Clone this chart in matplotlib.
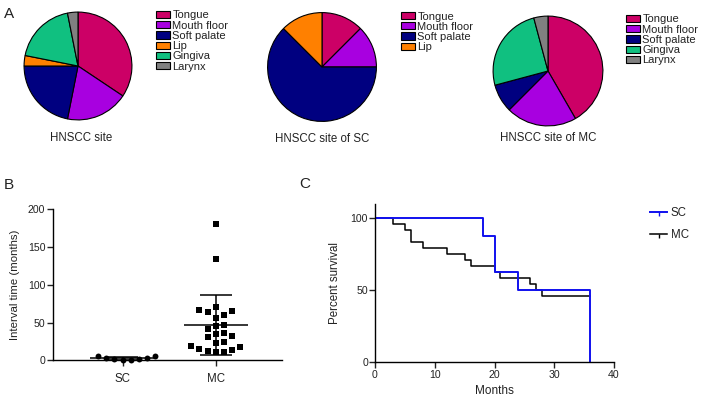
import matplotlib.pyplot as plt
import numpy as np
from matplotlib.patches import Patch
from matplotlib.lines import Line2D

plt.rcParams["font.family"] = ["Liberation Sans", "DejaVu Sans"]
plt.rcParams["text.color"] = "#222222"
plt.rcParams["axes.labelcolor"] = "#222222"
plt.rcParams["xtick.color"] = "#222222"
plt.rcParams["ytick.color"] = "#222222"

# ---- data -------------------------------------------------------------
site_colors = {
    "Tongue": "#CC0066",
    "Mouth floor": "#A800E0",
    "Soft palate": "#000080",
    "Lip": "#FF8000",
    "Gingiva": "#10C080",
    "Larynx": "#808080",
}

all_sites = ["Tongue", "Mouth floor", "Soft palate", "Lip", "Gingiva", "Larynx"]
all_counts = [11, 6, 7, 1, 6, 1]

sc_sites = ["Tongue", "Mouth floor", "Soft palate", "Lip"]
sc_counts = [1, 1, 5, 1]

mc_sites = ["Tongue", "Mouth floor", "Soft palate", "Gingiva", "Larynx"]
mc_counts = [10, 5, 2, 6, 1]

groups = ["SC", "MC"]
sc_interval = [5.7, 3.5, 1.3, 0.0, 0.5, 2.2, 3.5, 5.7]
mc_interval = [180, 134, 71, 66, 65, 64, 60, 56.5, 47, 46, 42, 36, 34.5,
               31, 32, 24.5, 23.5, 19.5, 17, 14.5, 14, 12, 11, 11]

sc_km_months = [0, 18, 20, 24, 36]
sc_km_surv = [100, 87.5, 62.5, 50, 0]
mc_km_months = [0, 3, 5, 6, 8, 12, 15, 16, 20, 21, 26, 27, 28, 36]
mc_km_surv = [100, 95.8, 91.7, 83.3, 79.2, 75, 70.8, 66.7, 62.5, 58.3,
              54.2, 50, 45.8, 45.8]


def swarm_offsets(values, step, ythresh):
    """Simple beeswarm: put each point at the nearest free horizontal slot."""
    order = np.argsort(values, kind="stable")
    placed = []
    offsets = np.zeros(len(values))
    for i in order:
        y = values[i]
        k = 0
        while True:
            cands = [0] if k == 0 else [k, -k]
            ok = None
            for c in cands:
                x = c * step
                if all(abs(x - px) > step * 0.99 or abs(y - py) > ythresh
                       for px, py in placed):
                    ok = x
                    break
            if ok is not None:
                offsets[i] = ok
                placed.append((ok, y))
                break
            k += 1
    return offsets


W, H = 709, 407
fig = plt.figure(figsize=(W / 100, H / 100), dpi=100)


def fx(px):
    return px / W


def fy(py):
    return 1 - py / H


# ---- panel A: pies ------------------------------------------------------
pies = [
    (all_sites, all_counts, (78, 66, 55), (156, 10.5), (81, 138), "HNSCC site"),
    (sc_sites, sc_counts, (322, 67, 55.5), (401, 11.5), (322, 139), "HNSCC site of SC"),
    (mc_sites, mc_counts, (548, 71, 56), (626, 14.5), (548, 138), "HNSCC site of MC"),
]
for sites, counts, (cx, cy, r), (lx, ly), (tx, ty), title in pies:
    ax = fig.add_axes([fx(cx - r), fy(cy + r), 2 * r / W, 2 * r / H])
    ax.pie(counts, colors=[site_colors[s] for s in sites], startangle=90,
           counterclock=False, radius=1,
           wedgeprops=dict(edgecolor="black", linewidth=0.8))
    ax.set_xlim(-1.02, 1.02)
    ax.set_ylim(-1.02, 1.02)
    handles = [Patch(facecolor=site_colors[s], edgecolor="black", linewidth=0.8)
               for s in sites]
    fig.legend(handles, sites, loc="upper left",
               bbox_to_anchor=(fx(lx), fy(ly)), frameon=False, fontsize=8,
               handlelength=1.27, handleheight=0.6, handletextpad=0.2,
               labelspacing=0.02, borderpad=0, borderaxespad=0)
    fig.text(fx(tx), fy(ty), title, ha="center", va="center", fontsize=8.3)

# ---- panel B: interval scatter -----------------------------------------
axb = fig.add_axes([fx(53), fy(360.3), (282 - 53) / W, (360.3 - 209.3) / H])
positions = [1, 2]
for pos, vals, marker, size in [(1, sc_interval, "o", 18), (2, mc_interval, "s", 17)]:
    vals = np.asarray(vals, dtype=float)
    off = swarm_offsets(vals, 0.088, 10.0)
    axb.scatter(pos + off, vals, marker=marker, s=size, color="black",
                linewidths=0, zorder=3, clip_on=False)
    m, sd = vals.mean(), vals.std(ddof=1)
    axb.hlines(m, pos - 0.345, pos + 0.345, color="black", lw=1.1, zorder=4)
    axb.vlines(pos, max(m - sd, 0), m + sd, color="black", lw=1.1, zorder=4)
    axb.hlines([max(m - sd, 0), m + sd], pos - 0.17, pos + 0.17, color="black",
               lw=1.1, zorder=4)

axb.set_xlim(0.254, 2.71)
axb.set_ylim(0, 200)
axb.set_xticks(positions)
axb.set_xticklabels(groups, fontsize=8.3)
axb.set_yticks([0, 50, 100, 150, 200])
axb.tick_params(axis="y", labelsize=7.6, length=4, width=1, pad=1.5)
axb.tick_params(axis="x", length=4, width=1, pad=5)
axb.set_ylabel("Interval time (months)", fontsize=8.2, labelpad=6)
for s in ["top", "right"]:
    axb.spines[s].set_visible(False)
for s in ["left", "bottom"]:
    axb.spines[s].set_linewidth(1)

# ---- panel C: Kaplan-Meier ---------------------------------------------
axc = fig.add_axes([fx(375), fy(362), (614 - 375) / W, (362 - 204) / H])
axc.step(mc_km_months, mc_km_surv, where="post", color="black", lw=1.1)
axc.step(sc_km_months, sc_km_surv, where="post", color="#1010EE", lw=1.4)
axc.set_xlim(0, 40)
axc.set_ylim(0, 110)
axc.set_xticks([0, 10, 20, 30, 40])
axc.set_yticks([0, 50, 100])
axc.tick_params(labelsize=7.6, length=4, width=1)
axc.tick_params(axis="y", pad=1)
axc.tick_params(axis="x", pad=2)
axc.set_xlabel("Months", fontsize=8.5, labelpad=3)
axc.set_ylabel("Percent survival", fontsize=8.3, labelpad=7)
for s in ["top", "right"]:
    axc.spines[s].set_visible(False)
for s in ["left", "bottom"]:
    axc.spines[s].set_linewidth(1)

km_handles = [
    Line2D([], [], color="#1010EE", lw=1.4, marker=3, markersize=3),
    Line2D([], [], color="black", lw=1.1, marker=3, markersize=3),
]
fig.legend(km_handles, groups, loc="upper left",
           bbox_to_anchor=(fx(650), fy(207.5)), frameon=False, fontsize=8.3,
           handlelength=1.5, handletextpad=0.3, labelspacing=0.8,
           borderpad=0, borderaxespad=0)

# ---- panel letters -----------------------------------------------------
for letter, (px, py) in {"A": (9, 14), "B": (9, 185), "C": (305, 184)}.items():
    fig.text(fx(px), fy(py), letter, ha="center", va="center", fontsize=11)

fig.savefig("out.png", dpi=100)
